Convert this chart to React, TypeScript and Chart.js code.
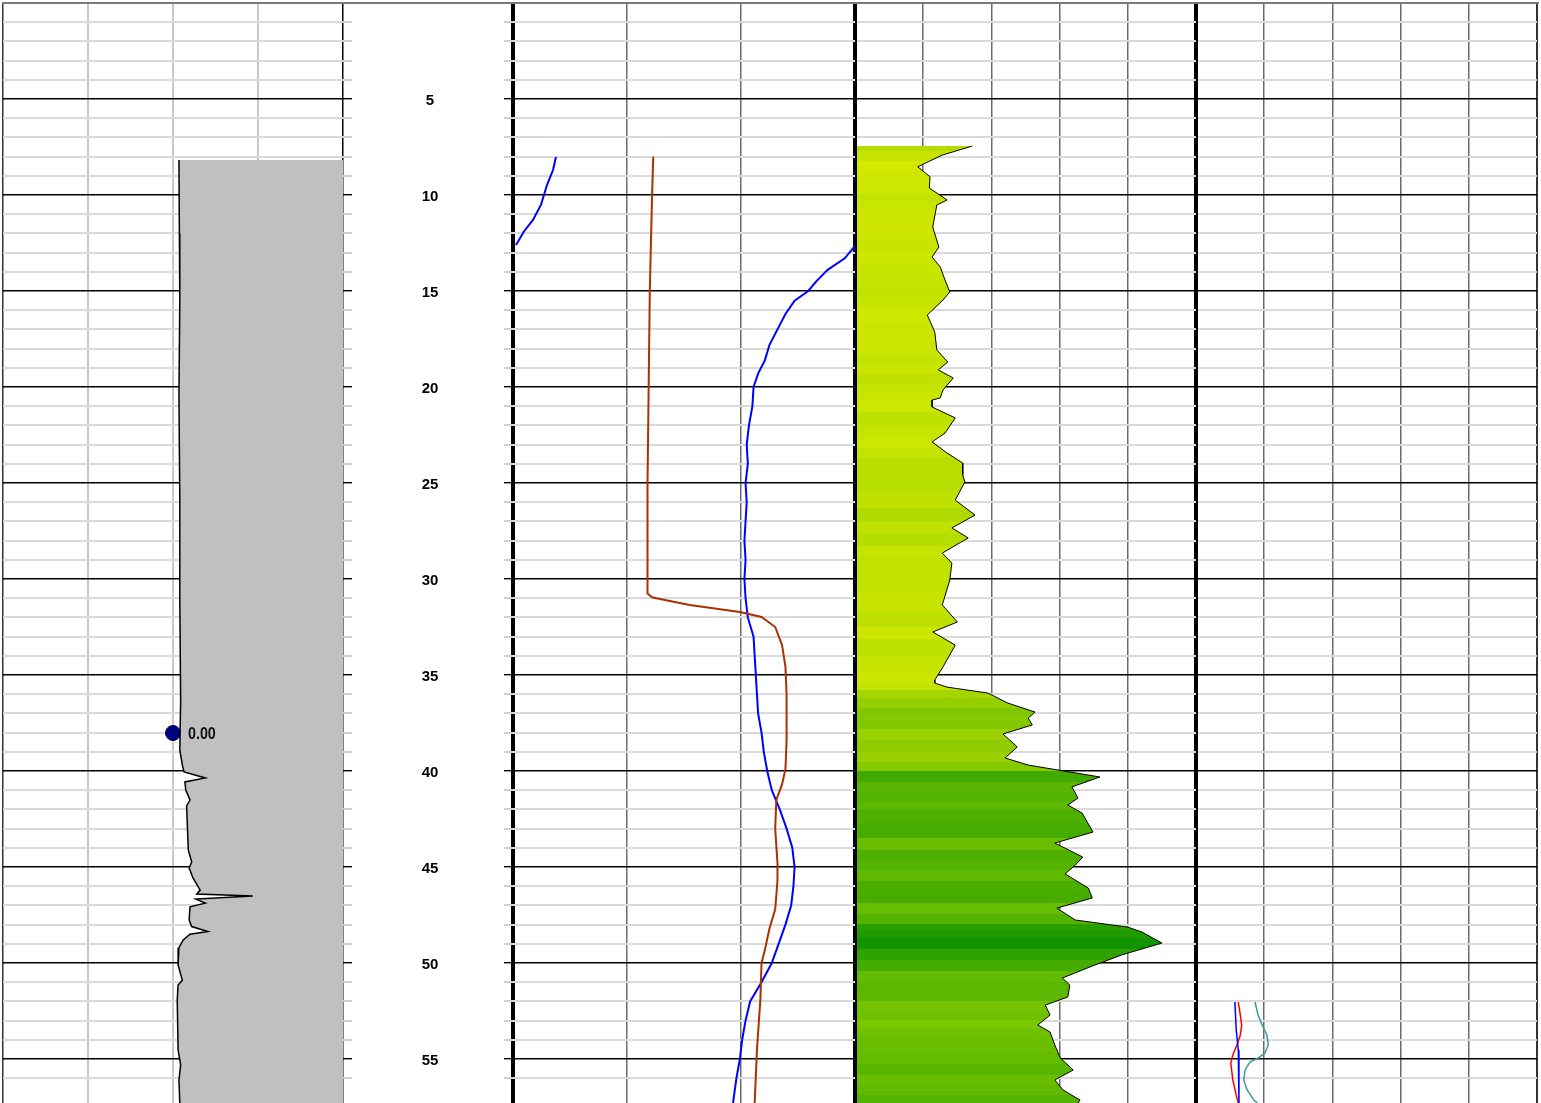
import { useEffect, useRef } from "react";
import { Chart, registerables } from "chart.js";

Chart.register(...registerables);

type Pair = [number, number]; // [depth, value]

// ---------- depth axis ----------
const DEPTH_MAX = 57.29;
const DEPTH_LABEL_STEP = 5;
const depthLabels = [5, 10, 15, 20, 25, 30, 35, 40, 45, 50, 55];

// ---------- track 1 (grey filled curve, scale -2..2) ----------
const t1Min = -2;
const t1Max = 2;
const spLog: Pair[] = [
  [8.18, 0.07], [12, 0.075], [15.47, 0.08], [20.5, 0.07], [25.89, 0.08], [31, 0.08],
  [36.3, 0.09], [38.9, 0.08], [39.69, 0.11], [40.05, 0.13], [40.36, 0.38], [40.57, 0.14],
  [40.99, 0.15], [41.51, 0.2], [41.82, 0.16], [44.11, 0.18], [44.74, 0.22], [45.05, 0.19],
  [45.57, 0.235], [46.2, 0.32], [46.41, 0.28], [46.51, 0.94], [46.67, 0.27], [46.88, 0.38],
  [47.07, 0.2], [47.76, 0.19], [48.1, 0.22], [48.36, 0.41], [48.5, 0.2], [48.8, 0.12],
  [49.2, 0.07], [50.1, 0.06], [50.9, 0.11], [51.15, 0.06], [51.93, 0.05], [54.53, 0.06],
  [55.3, 0.09], [56.09, 0.07], [57.29, 0.08],
];
const markerDepth = 38.02;
const markerValue = 0;
const markerLabel = "0.00";

// ---------- track 2 (scale 0..3) ----------
const t2Min = 0;
const t2Max = 3;
const blueShallowSeg: Pair[] = [
  [8.02, 0.377], [8.7, 0.351], [9.48, 0.298], [10.5, 0.246], [11.3, 0.175], [11.9, 0.096], [12.6, 0.026],
];
const blueWrapSeg: Pair[] = [
  [12.65, 3.0], [13.3, 2.91], [13.9, 2.76], [14.5, 2.66], [15.0, 2.59], [15.5, 2.47], [16.2, 2.39],
  [17.0, 2.32], [17.8, 2.25], [18.6, 2.21], [19.3, 2.15], [20.0, 2.11], [21.0, 2.1], [22.0, 2.07],
  [23.0, 2.05], [24.0, 2.06], [25.0, 2.04], [26.0, 2.05], [27.0, 2.04], [28.0, 2.03], [29.0, 2.04],
  [30.0, 2.03], [31.0, 2.04], [32.0, 2.06], [33.0, 2.11], [34.0, 2.12], [35.0, 2.13], [36.0, 2.14],
  [37.0, 2.15], [38.0, 2.18], [39.0, 2.2], [40.0, 2.23], [41.0, 2.27], [42.0, 2.34], [43.0, 2.4],
  [44.0, 2.45], [45.0, 2.47], [46.0, 2.46], [47.0, 2.44], [48.0, 2.39], [49.0, 2.33], [50.0, 2.27],
  [51.0, 2.18], [52.0, 2.08], [53.0, 2.04], [54.0, 2.01], [55.0, 1.99], [56.0, 1.96], [57.29, 1.93],
];
const brownLog: Pair[] = [
  [8.0, 1.23], [10, 1.22], [15, 1.2], [20, 1.19], [25, 1.18], [30.5, 1.18], [30.75, 1.18],
  [30.95, 1.22], [31.05, 1.3], [31.35, 1.55], [31.72, 1.99], [31.98, 2.18], [32.5, 2.3],
  [33.44, 2.36], [34.58, 2.39], [36.04, 2.4], [38.4, 2.4], [39.9, 2.39], [40.7, 2.36],
  [41.5, 2.31], [43.0, 2.3], [44.8, 2.32], [45.7, 2.32], [47.2, 2.3], [48.2, 2.25],
  [49.3, 2.21], [50.0, 2.18], [51.9, 2.17], [54.5, 2.14], [57.29, 2.12],
];

// ---------- track 3 (scale 0..5) ----------
const t3Min = 0;
const t3Max = 5;
const grLog: Pair[] = [
  [7.45, 1.72], [7.92, 1.28], [8.53, 0.92], [9.05, 1.1], [9.64, 1.09], [10.26, 1.35], [10.52, 1.2],
  [11.67, 1.14], [12.71, 1.23], [13.23, 1.13], [13.75, 1.25], [14.43, 1.32], [15.05, 1.39],
  [15.47, 1.29], [16.25, 1.06], [17.14, 1.17], [18.07, 1.2], [18.7, 1.36], [19.11, 1.22],
  [19.53, 1.44], [20.16, 1.29], [20.57, 1.25], [20.68, 1.13], [21.04, 1.13], [21.61, 1.47],
  [22.4, 1.32], [22.86, 1.13], [23.44, 1.35], [23.96, 1.58], [24.58, 1.58], [24.95, 1.61],
  [25.89, 1.47], [26.67, 1.76], [27.34, 1.42], [27.86, 1.66], [28.65, 1.28], [29.17, 1.42],
  [30.05, 1.39], [31.35, 1.28], [32.24, 1.5], [32.76, 1.14], [33.44, 1.47], [34.58, 1.29],
  [35.26, 1.17], [35.42, 1.17], [35.63, 1.35], [35.94, 1.95], [36.46, 2.24], [36.93, 2.64],
  [37.24, 2.54], [37.6, 2.6], [38.07, 2.17], [38.75, 2.38], [39.32, 2.2], [39.69, 2.54],
  [40.31, 3.59], [40.83, 3.18], [41.41, 3.27], [41.77, 3.12], [42.19, 3.33], [43.18, 3.49],
  [43.75, 2.93], [44.48, 3.34], [44.9, 3.23], [45.36, 3.08], [46.09, 3.42], [46.61, 3.48],
  [47.14, 2.96], [47.76, 3.23], [48.13, 4.0], [48.39, 4.21], [48.96, 4.5], [49.58, 3.91],
  [50.1, 3.52], [50.78, 3.04], [51.15, 3.15], [51.77, 3.12], [52.19, 2.79], [52.71, 2.86],
  [53.23, 2.68], [53.59, 2.86], [54.27, 2.93], [54.95, 3.01], [55.57, 3.2], [56.09, 2.93],
  [56.61, 3.05], [57.14, 3.3], [57.29, 3.27],
];
const purpleLog: Pair[] = [
  [52.0, 0.19], [52.55, 0.26], [53.07, 0.32], [53.75, 0.37], [54.53, 0.43], [55.3, 0.45],
  [55.99, 0.48], [56.61, 0.51], [57.29, 0.62],
];
// value -> fill colour stops
const grColorStops: [number, [number, number, number]][] = [
  [0.9, [212, 234, 0]], [1.3, [198, 228, 0]], [1.7, [180, 220, 0]], [2.2, [152, 208, 0]],
  [2.6, [130, 200, 0]], [3.0, [100, 188, 0]], [3.4, [74, 174, 0]], [4.0, [42, 160, 0]],
  [4.5, [16, 148, 0]],
];

// ---------- track 4 (scale 0..5) ----------
const t4Min = 0;
const t4Max = 5;
const blue4Log: Pair[] = [[52.03, 0.57], [53.49, 0.59], [54.53, 0.62], [55.57, 0.63], [57.29, 0.63]];
const red4Log: Pair[] = [
  [52.03, 0.62], [52.71, 0.65], [53.23, 0.67], [53.75, 0.65], [54.27, 0.6], [54.79, 0.54],
  [55.21, 0.51], [56.09, 0.54], [56.88, 0.59], [57.29, 0.62],
];
const teal4Log: Pair[] = [
  [52.03, 0.865], [52.71, 0.91], [53.23, 0.97], [53.75, 1.04], [54.27, 1.06], [54.69, 1.01],
  [54.95, 0.91], [55.16, 0.79], [55.57, 0.72], [56.09, 0.7], [56.61, 0.75], [57.14, 0.85], [57.29, 0.9],
];

// ---------- helpers ----------
const toXY = (arr: Pair[]) => arr.map(([d, v]) => ({ x: v, y: d }));
const isInt = (v: number) => Math.abs(v - Math.round(v)) < 1e-6;
const isMajor = (v: number) => isInt(v) && Math.round(v) % DEPTH_LABEL_STEP === 0;

function grColor(v: number): string {
  const s = grColorStops;
  if (v <= s[0][0]) return `rgb(${s[0][1].join(",")})`;
  for (let i = 1; i < s.length; i++) {
    if (v <= s[i][0]) {
      const t = (v - s[i - 1][0]) / (s[i][0] - s[i - 1][0]);
      const c = s[i - 1][1].map((a, k) => Math.round(a + (s[i][1][k] - a) * t));
      return `rgb(${c.join(",")})`;
    }
  }
  return `rgb(${s[s.length - 1][1].join(",")})`;
}

const gridLineColor = (minor: string) => (c: any) => {
  const v = c.tick.value;
  if (!isInt(v) || Math.round(v) === 0) return "rgba(0,0,0,0)";
  return isMajor(v) ? "#000000" : minor;
};
const tickMarkColor = (c: any) => {
  const v = c.tick.value;
  if (!isInt(v)) return "rgba(0,0,0,0)";
  if (Math.round(v) === 0) return "#7a7a7a";
  return isMajor(v) ? "#000000" : "#cfcfcf";
};
const gridLineWidth = (c: any) => (isMajor(c.tick.value) ? 1.4 : 2);

// depth scale inside a track (width 0 unless a fixed width is given)
function yScale(opts: { position?: string; width?: number; ticksOnly?: boolean; minor?: string } = {}) {
  const { position = "left", width, ticksOnly = false, minor = "#dadada" } = opts;
  const s: any = {
    type: "linear",
    position,
    min: 0,
    max: DEPTH_MAX,
    reverse: true,
    ticks: { display: false, stepSize: 1, autoSkip: false },
    border: { display: false },
    grid: {
      drawOnChartArea: !ticksOnly,
      drawTicks: width !== undefined,
      tickLength: 9,
      color: gridLineColor(minor),
      lineWidth: gridLineWidth,
      tickColor: tickMarkColor,
      tickWidth: gridLineWidth,
    },
  };
  if (width !== undefined) {
    s.afterFit = (sc: any) => {
      sc.width = width;
      sc.paddingTop = 0;
      sc.paddingBottom = 0;
    };
  }
  return s;
}

function xScale(
  min: number, max: number,
  inner: string, innerW: number,
  leftC: string, leftW: number,
  rightC: string, rightW: number
) {
  return {
    type: "linear",
    position: "top",
    min,
    max,
    ticks: { display: false, stepSize: 1, autoSkip: false },
    border: { display: true, color: "#7a7a7a", width: 2 },
    grid: {
      drawTicks: false,
      color: (c: any) => (c.tick.value <= min + 1e-9 ? leftC : c.tick.value >= max - 1e-9 ? rightC : inner),
      lineWidth: (c: any) => (c.tick.value <= min + 1e-9 ? leftW : c.tick.value >= max - 1e-9 ? rightW : innerW),
    },
  };
}

function baseOptions(scales: any, padding: any): any {
  return {
    responsive: false,
    animation: false,
    devicePixelRatio: 1,
    indexAxis: "y",
    events: [],
    layout: { padding, autoPadding: false },
    plugins: { legend: { display: false }, tooltip: { enabled: false } },
    scales,
  };
}

const lineDs = (data: Pair[], color: string, width: number, extra: any = {}) => ({
  data: toXY(data),
  borderColor: color,
  borderWidth: width,
  pointRadius: 0,
  fill: false,
  tension: 0,
  ...extra,
});

const markerLabelPlugin = {
  id: "markerLabel",
  afterDatasetsDraw(chart: any) {
    const meta = chart.getDatasetMeta(1);
    const el = meta && meta.data && meta.data[0];
    if (!el) return;
    const ctx = chart.ctx;
    ctx.save();
    ctx.translate(el.x + 15, el.y + 1);
    ctx.scale(0.84, 1);
    ctx.font = 'bold 17px "Liberation Sans", Arial, sans-serif';
    ctx.fillStyle = "#111111";
    ctx.textBaseline = "middle";
    ctx.textAlign = "left";
    ctx.fillText(markerLabel, 0, 0);
    ctx.restore();
  },
};

// depth labels drawn in the depth column (the y-axis box of track 2), positioned by the y scale
const depthLabelPlugin = {
  id: "depthLabels",
  afterDraw(chart: any) {
    const ys = chart.scales.y;
    const ctx = chart.ctx;
    ctx.save();
    const y0 = Math.round(ys.getPixelForValue(0));
    ctx.strokeStyle = "#7a7a7a";
    ctx.lineWidth = 2;
    ctx.beginPath();
    ctx.moveTo(ys.left, y0);
    ctx.lineTo(ys.right, y0);
    ctx.stroke();
    ctx.font = 'bold 15px "Liberation Sans", Arial, sans-serif';
    ctx.fillStyle = "#000000";
    ctx.textAlign = "center";
    ctx.textBaseline = "middle";
    const cx = ys.left + 87;
    for (const d of depthLabels) {
      ctx.fillText(String(d), cx, ys.getPixelForValue(d) + 1.5);
    }
    ctx.restore();
  },
};

export default function App() {
  const r1 = useRef<HTMLCanvasElement>(null);
  const r2 = useRef<HTMLCanvasElement>(null);
  const r3 = useRef<HTMLCanvasElement>(null);
  const r4 = useRef<HTMLCanvasElement>(null);

  useEffect(() => {
    const charts: Chart[] = [];

    // Track 1 (+ left tick marks of the depth column)
    charts.push(
      new Chart(r1.current as HTMLCanvasElement, {
        type: "line",
        data: {
          datasets: [
            lineDs(spLog, "#000000", 1.5, { fill: { value: t1Max }, backgroundColor: "#c0c0c0" }),
            {
              data: [{ x: markerValue, y: markerDepth }],
              showLine: false,
              pointRadius: 7.5,
              pointBackgroundColor: "#000080",
              pointBorderColor: "#00004a",
              pointBorderWidth: 1,
              clip: false,
            },
          ],
        },
        options: baseOptions(
          {
            x: xScale(t1Min, t1Max, "#c8c8c8", 2, "#333333", 1.5, "#000000", 1.5),
            y: yScale({ minor: "#dadada" }),
            y2: yScale({ position: "right", width: 9, ticksOnly: true }),
          },
          { top: 3, left: 3, right: 0, bottom: 0 }
        ),
        plugins: [markerLabelPlugin],
      } as any)
    );

    // Track 2 (+ depth column as its y-axis box)
    charts.push(
      new Chart(r2.current as HTMLCanvasElement, {
        type: "line",
        data: {
          datasets: [
            lineDs(brownLog, "#a83200", 2),
            lineDs(blueShallowSeg, "#0000ff", 2),
            lineDs(blueWrapSeg, "#0000ff", 2),
          ],
        },
        options: baseOptions(
          {
            x: xScale(t2Min, t2Max, "#6a6a6a", 1.5, "#000000", 4, "#000000", 4),
            y: yScale({ width: 170 }),
          },
          { top: 3, left: 0, right: 3, bottom: 0 }
        ),
        plugins: [depthLabelPlugin],
      } as any)
    );

    // Track 3
    const grFill = (ctx: any) => {
      const chart = ctx.chart;
      const area = chart.chartArea;
      const ys = chart.scales && chart.scales.y;
      if (!area || !ys) return grColor(1.3);
      const g = chart.ctx.createLinearGradient(0, area.top, 0, area.bottom);
      const h = area.bottom - area.top;
      const frac = (d: number) => Math.min(1, Math.max(0, (ys.getPixelForValue(d) - area.top) / h));
      for (let i = 0; i < grLog.length; i++) {
        const d = grLog[i][0];
        const prev = i > 0 ? (grLog[i - 1][0] + d) / 2 : d - 0.3;
        const next = i < grLog.length - 1 ? (grLog[i + 1][0] + d) / 2 : DEPTH_MAX;
        const col = grColor(grLog[i][1]);
        g.addColorStop(frac(prev) + 0.00001, col);
        g.addColorStop(Math.max(frac(prev) + 0.00002, frac(next) - 0.00001), col);
      }
      return g;
    };
    charts.push(
      new Chart(r3.current as HTMLCanvasElement, {
        type: "line",
        data: {
          datasets: [
            lineDs(grLog, "#000000", 1, { fill: { value: t3Min }, backgroundColor: grFill }),
            lineDs(purpleLog, "#8a129e", 2.5),
          ],
        },
        options: baseOptions(
          {
            x: xScale(t3Min, t3Max, "#6a6a6a", 1.5, "#000000", 4, "#000000", 4),
            y: yScale(),
          },
          { top: 3, left: 3, right: 3, bottom: 0 }
        ),
      } as any)
    );

    // Track 4
    charts.push(
      new Chart(r4.current as HTMLCanvasElement, {
        type: "line",
        data: {
          datasets: [
            lineDs(teal4Log, "#3c9999", 1.5),
            lineDs(blue4Log, "#0000ff", 1.5),
            lineDs(red4Log, "#ff0000", 1.5),
          ],
        },
        options: baseOptions(
          {
            x: xScale(t4Min, t4Max, "#6a6a6a", 1.5, "#000000", 4, "#333333", 2),
            y: yScale(),
          },
          { top: 3, left: 3, right: 3, bottom: 0 }
        ),
      } as any)
    );

    return () => charts.forEach((c) => c.destroy());
  }, []);

  const cv = (left: number, width: number, z: number) => ({
    position: "absolute" as const,
    left,
    top: 0,
    width,
    height: 1103,
    zIndex: z,
  });

  return (
    <div
      style={{
        position: "absolute",
        left: 0,
        top: 0,
        width: 1541,
        height: 1103,
        background: "#ffffff",
        overflow: "hidden",
      }}
    >
      <canvas ref={r1} width={352} height={1103} style={cv(0, 352, 1)} />
      <canvas ref={r4} width={347} height={1103} style={cv(1193, 347, 2)} />
      <canvas ref={r3} width={347} height={1103} style={cv(852, 347, 3)} />
      <canvas ref={r2} width={515} height={1103} style={cv(343, 515, 4)} />
    </div>
  );
}
